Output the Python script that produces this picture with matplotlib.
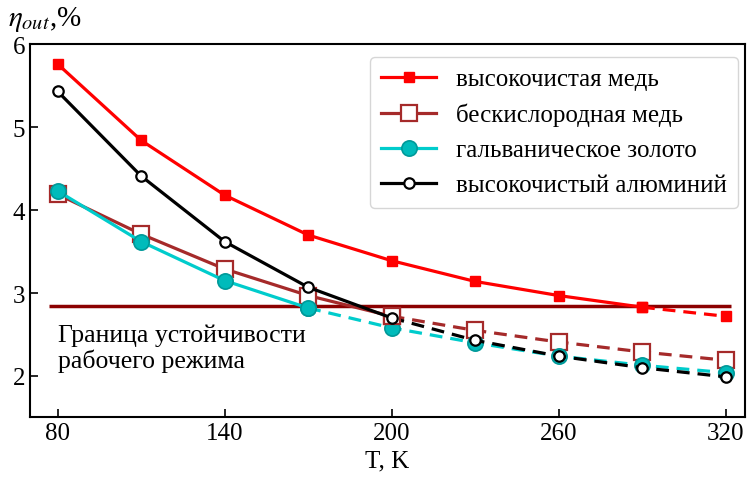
import numpy as np
import matplotlib
matplotlib.use("Agg")
import matplotlib.pyplot as plt

plt.rcParams['font.family'] = ['Liberation Serif', 'DejaVu Serif']
plt.rcParams['mathtext.fontset'] = 'stix'

T = np.array([80, 110, 140, 170, 200, 230, 260, 290, 320])

cu_pure = np.array([5.76, 4.84, 4.18, 3.70, 3.39, 3.14, 2.97, 2.83, 2.72])
cu_ofhc = np.array([4.19, 3.71, 3.29, 2.97, 2.72, 2.55, 2.41, 2.29, 2.19])
au_galv = np.array([4.23, 3.62, 3.15, 2.82, 2.58, 2.40, 2.24, 2.13, 2.04])
al_pure = np.array([5.43, 4.41, 3.62, 3.07, 2.70, 2.43, 2.24, 2.10, 1.99])

threshold = 2.845

labels = ['высокочистая медь', 'бескислородная медь',
          'гальваническое золото', 'высокочистый алюминий']
# index of last point drawn solid (above the stability limit)
solid_end = [7, 4, 3, 4]

styles = [
    dict(color='#ff0000', marker='s', ms=7, mfc='#ff0000', mec='#ff0000', mew=1),
    dict(color='#a52a2a', marker='s', ms=11, mfc='white', mec='#a52a2a', mew=1.6),
    dict(color='#00cccc', marker='o', ms=11, mfc='#00bbbb', mec='#009999', mew=1.2),
    dict(color='black', marker='o', ms=7.5, mfc='white', mec='black', mew=1.6),
]

fig, ax = plt.subplots(figsize=(7.48, 4.81), dpi=100)
fig.subplots_adjust(left=0.04, right=0.996, top=0.906, bottom=0.13)

ax.hlines(threshold, 77, 322, color='#8b0000', lw=2.5, zorder=1)

for y, lab, k, st in zip([cu_pure, cu_ofhc, au_galv, al_pure], labels, solid_end, styles):
    ax.plot(T[:k + 1], y[:k + 1], ls='-', lw=2.3, label=lab, zorder=3, **st)
    ax.plot(T[k:], y[k:], ls=(0, (4, 2.5)), lw=2.3, zorder=2, **st)

ax.text(80, 2.63, 'Граница устойчивости\nрабочего режима', fontsize=18.5,
        va='top', ha='left', linespacing=1.1)

ax.set_xlim(70, 327)
ax.set_ylim(1.5, 6)
ax.set_xticks([80, 140, 200, 260, 320])
ax.set_yticks([2, 3, 4, 5, 6])
ax.tick_params(direction='in', labelsize=18, length=6, width=1.2, top=False, right=False)
for s in ax.spines.values():
    s.set_linewidth(1.5)

ax.set_xlabel('T, K', fontsize=18, labelpad=4)
ax.text(-0.03, 1.03, r'$\eta_{out}$,%', transform=ax.transAxes, fontsize=21,
        ha='left', va='bottom')

ax.legend(loc='upper right', bbox_to_anchor=(1.008, 1.0), fontsize=18,
          frameon=True, fancybox=True, edgecolor='#cccccc', handlelength=2.2,
          borderpad=0.45, labelspacing=0.5, handletextpad=0.8)

fig.savefig('out.png', dpi=100)
